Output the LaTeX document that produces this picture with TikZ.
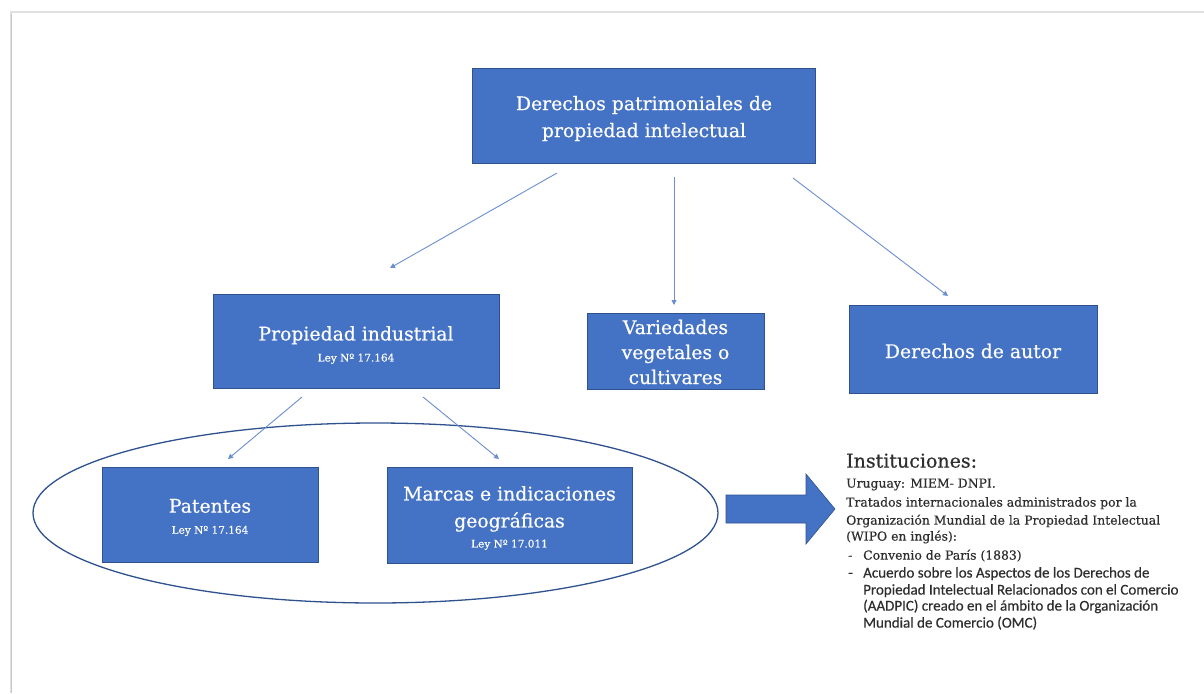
\documentclass[tikz,border=0pt]{standalone}
\usepackage{fontspec}
\setmainfont{DejaVu Serif}[FakeBold=0.5]
\newfontfamily\calib{Carlito}[FakeBold=0.4]
\usetikzlibrary{arrows.meta,shapes.geometric}
\definecolor{obox}{HTML}{4472C4}
\definecolor{oedge}{HTML}{2F528F}
\definecolor{otxt}{HTML}{2E2E2E}
\definecolor{oline}{HTML}{6A8FD0}
\newcommand{\lawf}{\fontsize{10.5}{12}\selectfont}
\begin{document}
\begin{tikzpicture}[x=1pt,y=-1pt,
  bluebox/.style={draw=oedge,line width=0.7pt,fill=obox,inner sep=0pt},
  boxtxt/.style={text=white,align=center,inner sep=0pt,font=\fontsize{18.8}{27}\selectfont},
  conn/.style={draw=oline,line width=0.9pt,-{Triangle[width=5pt,length=5pt]}},
  inst/.style={anchor=mid west,inner sep=0pt,text=otxt,font=\fontsize{12.4}{14}\selectfont},
  instc/.style={anchor=mid west,inner sep=0pt,text=otxt,font=\calib\fontsize{15}{16}\selectfont}
]
\useasboundingbox (0,0) rectangle (1204,693);
\fill[white] (0,0) rectangle (1204,693);
% page frame
\draw[black!12,line width=1.2pt] (11,693) -- (11,12) -- (1204,12);
\draw[black!22,line width=1.6pt] (11.5,14) -- (11.5,693);

% ellipse group
\node[draw=oedge,line width=1.3pt,ellipse,minimum width=685,minimum height=180,inner sep=0pt] (ell) at (375.5,513) {};

% boxes
\node[bluebox,minimum width=343,minimum height=95] (top) at (644,115.5) {};
\node[bluebox,minimum width=286,minimum height=94] (pind) at (356,341) {};
\node[bluebox,minimum width=177,minimum height=76] (var) at (675.5,351) {};
\node[bluebox,minimum width=248,minimum height=88] (aut) at (973,349) {};
\node[bluebox,minimum width=216,minimum height=95] (pat) at (210,514.5) {};
\node[bluebox,minimum width=245,minimum height=96] (mar) at (509.5,515) {};

% box texts
\node[boxtxt] (toptxt) at ([yshift=-3pt]top.center) {Derechos patrimoniales de\\propiedad intelectual};
\node[boxtxt] (pindtxt) at ([yshift=-4pt]pind.center) {Propiedad industrial\\[-6pt]{\lawf Ley Nº 17.164}};
\node[boxtxt,font=\fontsize{18.8}{25}\selectfont] (vartxt) at ([yshift=-1pt]var.center) {Variedades\\vegetales o\\cultivares};
\node[boxtxt] (auttxt) at ([yshift=-2pt]aut.center) {Derechos de autor};
\node[boxtxt] (pattxt) at ([yshift=-3pt]pat.center) {Patentes\\[-6pt]{\lawf Ley Nº 17.164}};
\node[boxtxt] (martxt) at ([yshift=-3pt]mar.center) {Marcas e indicaciones\\geográficas\\[-7pt]{\lawf Ley Nº 17.011}};

% connector end points (the arrows stop short of the boxes)
\coordinate (t1) at (557,173);
\coordinate (t1e) at (390,268);
\coordinate (t2) at (674,177);
\coordinate (t2e) at (674,305);
\coordinate (t3) at (793,178);
\coordinate (t3e) at (948,296);
\coordinate (p1) at (302,397);
\coordinate (p1e) at (228,459);
\coordinate (p2) at (423,397);
\coordinate (p2e) at (499,459);
\draw[conn] (t1) -- (t1e);
\draw[conn] (t2) -- (t2e);
\draw[conn] (t3) -- (t3e);
\draw[conn] (p1) -- (p1e);
\draw[conn] (p2) -- (p2e);

% block arrow
\filldraw[fill=obox,draw=oedge,line width=0.6pt] (726,495) -- (806,495) -- (806,474) -- (835,509) -- (806,544) -- (806,523) -- (726,523) -- cycle;

% institutions text
\node[inst,font=\fontsize{19}{22}\selectfont] (i0) at (846,465) {Instituciones:};
\node[inst] (i1) at (846,485) {Uruguay: MIEM- DNPI.};
\node[inst] (i2) at (846,504) {Tratados internacionales administrados por la};
\node[inst] (i3) at (846,522) {Organización Mundial de la Propiedad Intelectual};
\node[inst] (i4) at (846,538) {(WIPO en inglés):};
\node[inst] (b1) at (848,557) {-};
\node[inst] (i5) at (863,557) {Convenio de París (1883)};
\node[instc] (b2) at (848,575) {-};
\node[instc] (i6) at (863,575) {Acuerdo sobre los Aspectos de los Derechos de};
\node[instc] (i7) at (863,592) {Propiedad Intelectual Relacionados con el Comercio};
\node[instc] (i8) at (863,608) {(AADPIC) creado en el ámbito de la Organización};
\node[instc] (i9) at (863,625) {Mundial de Comercio (OMC)};
\end{tikzpicture}
\end{document}
